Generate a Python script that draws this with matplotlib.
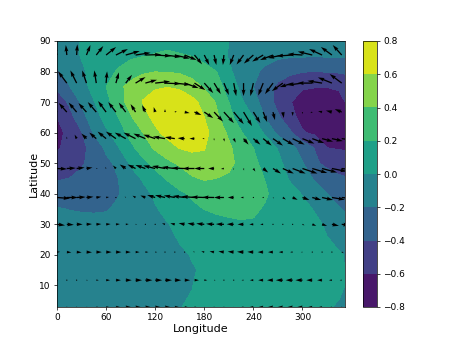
#!/usr/bin/python3

import numpy as np
import matplotlib
matplotlib.use("Agg")
import matplotlib.pyplot as plt

lon = [0, 15, 30, 45, 60, 75, 90, 105, 120, 135, 150, 165, 180, 195, 210, 225, 240, 255, 270, 285, 300, 315, 330, 345, 352]
lat = [3, 10, 15, 20, 30, 35, 40, 45, 50, 55, 60, 65, 70, 75, 80, 85, 90]

# field values, one list per latitude
z_3 = [-.02, -.025, -.03, -.035, -.04, -.04, -.035, -.03, -.025, -.015, -.003, .01, .02, .025, .03, .035, .04, .04, .04, .035, .03, .02, .005, -.005, -.01]
z_10 = [-.03, -.04, -.05, -.055, -.06, -.055, -.05, -.045, -.04, -.025, -.012, -.003, .03, .04, .05, .06, .07, .07, .07, .06, .05, .04, .03, .01, 0.0]
z_15 = [-.04, -.05, -.06, -.065, -.07, -.065, -.06, -.05, -.045, -.03, -.02, -.006, .01, .04, .06, .075, .085, .085, .085, .075, .06, .045, .03, .01, 0.0]
z_20 = [-.05, -.06, -.07, -.08, -.08, -.08, -.07, -.06, -.05, -.03, -.015, .005, .03, .05, .07, .09, .1, .1, .1, .09, .07, .05, .03, .01, -.005]
z_30 = [-.13, -.15, -.15, -.15, -.14, -.12, -.09, -.06, -.03, -.005, .03, .07, .1, .14, .16, .18, .18, .15, .12, .09, .06, .03, -.02, -.08, -.13]
z_35 = [-.19, -.205, -.215, -.22, -.215, -.17, -.11, -.06, -.015, .05, .1, .16, .205, .235, .25, .25, .23, .18, .13, .09, .04, -.01, -.1, -.19, -.22]
z_40 = [-.3, -.31, -.31, -.29, -.26, -.21, -.13, -.05, .03, .1, .17, .23, .28, .31, .33, .33, .3, .22, .13, .06, -.01, -.1, -.2, -.27, -.3]
z_45 = [-.42, -.4, -.36, -.31, -.26, -.2, -.08, .02, .13, .22, .3, .38, .42, .4, .37, .32, .27, .19, .09, -.02, -.12, -.22, -.29, -.36, -.38]
z_50 = [-.52, -.47, -.42, -.34, -.25, -.15, .03, .15, .26, .36, .43, .5, .55, .52, .45, .34, .24, .14, .04, -.07, -.19, -.36, -.46, -.53, -.55]
z_55 = [-.62, -.55, -.45, -.33, -.16, -.01, .15, .3, .43, .52, .61, .64, .61, .5, .43, .31, .2, .09, -.01, -.14, -.27, -.41, -.6, -.61, -.61]
z_60 = [-.68, -.53, -.41, -.18, -.03, .1, .27, .4, .56, .66, .72, .74, .66, .5, .37, .21, .1, -.03, -.25, -.37, -.58, -.64, -.7, -.7, -.68]
z_65 = [-.6, -.47, -.28, -.08, .06, .2, .38, .53, .65, .72, .78, .72, .6, .44, .25, .12, 0.0, -.22, -.37, -.53, -.67, -.74, -.78, -.74, -.68]
z_70 = [-.52, -.37, -.17, -.01, .13, .33, .47, .61, .68, .72, .72, .66, .53, .38, .2, .03, -.12, -.3, -.46, -.59, -.68, -.73, -.74, -.68, -.6]
z_75 = [-.36, -.21, -.07, .06, .2, .35, .46, .54, .58, .595, .57, .48, .38, .27, .13, -.05, -.2, -.32, -.44, -.52, -.58, -.59, -.595, -.57, -.55]
z_80 = [-.22, -.13, -.03, .06, .14, .22, .31, .37, .395, .39, .37, .33, .27, .2, .03, -.08, -.16, -.24, -.31, -.36, -.39, -.4, -.39, -.38, -.37]
z_85 = [-.14, -.07, .01, .06, .1, .14, .17, .195, .21, .22, .21, .2, .14, .07, -.01, -.06, -.1, -.14, -.17, -.185, -.19, -.19, -.19, -.18, -.18]
z_90 = [-.08, -.04, .01, .05, .08, .11, .13, .15, .16, .17, .16, .14, .1, .05, 0.0, -.03, -.05, -.07, -.09, -.11, -.13, -.14, -.14, -.13, -.12]

levels = [-0.8, -0.6, -0.4, -0.2, 0.0, 0.2, 0.4, 0.6, 0.8]

arrow_lon = list(range(0, 360, 12))
arrow_lat = [2.7, 11.6, 20.8, 29.9, 38.7, 48.2, 58, 66.7, 76.2, 85.4]

u_85 = [-3, -1, .7, 4, 7, 10, 12, 14, 15, 16, 16, 16, 15, 12, 7.6, 5, 2.3, -1, -4, -7, -9.5, -11, -13, -15, -16, -15, -14.5, -13, -11, -9]
v_85 = [10, 10, 10.7, 10, 9, 8, 6, 4, 2.3, .5, -1, -2, -3.5, -5, -9.3, -10, -10, -10, -10, -9.5, -8.5, -6.5, -5, -3, -1, 1, 3.5, 6, 8, 10]
u_76 = [-10, -8.7, -6.3, -4.3, -2, 1, 3, 6.3, 10, 11.7, 15, 15.7, 15.7, 14, 11, 9, 6.7, 5, 2.5, 0, -3, -5, -8, -11, -13, -15, -15, -14.7, -14, -12]
v_76 = [10, 11.7, 12.7, 12.7, 12.7, 11.7, 10.7, 8.3, 6, 3.3, 1.7, -.7, -1.7, -5, -7, -10, -11, -12, -13, -13, -13, -12.5, -11, -8, -4, -2, 0, 2.3, 5.7, 9]
u_67 = [-7, -8, -8, -8, -8.5, -8, -7.7, -7, -5, -3.3, -1.5, 0, 2, 5, 7, 9, 9, 10, 10, 8.5, 7, 4, 2, 1, 0, 0, -2, -4, -6, -7]
v_67 = [8, 9, 9.5, 9, 10, 11, 10, 9.5, 8, 7, 5, 3, 1, -1, -3, -6, -9.5, -11, -12, -14, -11, -10, -8, -6, -4, -2, -1, 1, 1.5, 3]
u_58 = [0, 0, -2, -5, -7, -8.5, -10, -11, -12, -12, -12, -12, -10, -7, -5, -2, 0, .5, 2, 5, 7, 8.5, 10, 11, 12, 12, 12, 11, 11, 10]
v_58 = [.5, 2, 4, 5, 6, 7, 7, 6, 6, 5, 4, 2, 1.5, .5, 0, 0, -2, -3, -4, -6, -6, -7, -7, -6.5, -6, -5, -4.5, -3, -2.5, -1.5]
u_48 = [10, 9, 8, 6, 1.5, -1, -3, -6, -8, -10, -12, -13, -13, -13, -12, -10, -6, -3, -.5, .5, 2, 5, 8, 11, 13, 15, 15, 15, 15, 15]
v_48 = [-.5, .5, 1, 1, .5, 1.5, 3, 4, 4, 3.5, 3, 2.5, 1.5, .5, 0, 0, 0, -.5, -1.5, -2, -3, -4, -5, -5, -5, -5, -4.5, -4, -3, -2]
u_39 = [13, 11, 9, 7, 5, 3, 1, -1, -3, -5, -8, -10, -11, -12, -13, -13, -12, -10, -6, -3, -1, .5, 1, 3, 5, 7, 9, 11, 13, 14]
v_39 = [-1, 0, .5, .7, .7, .5, .3, 1, 1.8, 2, 2.5, 2.3, 2, 1.5, 1, .5, .2, 0, 0, 0, 0, -.5, -1, -2, -2.3, -2.5, -2.5, -2.5, -2.2, -1.5]
u_30 = [8, 7, 6, 5.5, 5, 4.5, 4, 3, 1.5, 0, -1, -3, -4.5, -6, -7, -8, -8, -8, -7, -6, -4, -3, -1, 0, 1, 2, 4, 5, 7, 8]
v_30 = [-1, -.5, 0, .3, .3, .3, .3, .3, .2, .2, .8, 1, 1, 1.2, 1, .8, .5, .3, .2, 0, 0, 0, 0, 0, -.5, -1, -1.5, -1.5, -1.5, -1]
u_21 = [3, 4.5, 5, 5.5, 5.5, 5.5, 5.5, 5, 4, 3, 2, 1, 0, -.5, -1.5, -3, -4.5, -5.5, -6, -6.5, -6, -5.5, -5, -4, -2.5, -1.5, -.5, .5, 1, 2]
v_21 = [.3, -.3, -.3, -.2, 0, 0, 0, 0, 0, 0, 0, 0, 0, .2, .5, .7, .7, .7, .5, .3, .2, 0, 0, 0, 0, 0, 0, -.2, -.5, -.7]
u_12 = [0, .5, 1, 1.5, 2.5, 4, 5, 6, 6.5, 7, 7, 7, 6.5, 5.5, 4.5, 3, 1.5, .5, -.5, -2, -3.5, -5, -6, -7, -7, -7, -6, -5, -3, -2]
v_12 = [0, 0, 0, 0, 0, 0, 0, 0, 0, 0, 0, 0, 0, 0, 0, 0, 0, 0, 0, 0, 0, 0, 0, 0, 0, 0, 0, 0, 0, 0]
u_3 = [0, .5, 1, 2, 3, 4, 5, 6, 6, 6, 6, 6, 5, 4, 3, 1.5, .5, -.5, -1.5, -3, -4.5, -5.5, -6, -6, -6, -6, -5, -4, -2.5, -1]
v_3 = [0, 0, 0, 0, 0, 0, 0, 0, 0, 0, 0, 0, 0, 0, 0, 0, 0, 0, 0, 0, 0, 0, 0, 0, 0, 0, 0, 0, 0, 0]

x_ticks = [0, 60, 120, 180, 240, 300]
y_ticks = [10, 20, 30, 40, 50, 60, 70, 80, 90]


def make_plot():
    z = np.array([z_3, z_10, z_15, z_20, z_30, z_35, z_40, z_45, z_50, z_55, z_60, z_65, z_70, z_75, z_80, z_85, z_90])
    u = np.array([u_3, u_12, u_21, u_30, u_39, u_48, u_58, u_67, u_76, u_85])
    v = np.array([v_3, v_12, v_21, v_30, v_39, v_48, v_58, v_67, v_76, v_85])

    fig = plt.figure(figsize=(4.63, 3.46), dpi=100)
    ax = fig.add_axes([57 / 463, 1 - 307 / 346, 288 / 463, 266 / 346])
    cax = fig.add_axes([363 / 463, 1 - 307 / 346, 14 / 463, 266 / 346])

    cf = ax.contourf(lon, lat, z, levels=levels, cmap="viridis")
    # u, v are in pixels, axes are 288 px wide
    ax.quiver(arrow_lon, arrow_lat, u, v, color="black", scale=288, width=0.0045)

    ax.set_xlim(0, 352)
    ax.set_ylim(2.8, 90)
    ax.set_xticks(x_ticks)
    ax.set_yticks(y_ticks)
    ax.tick_params(labelsize=6.5, length=2.5, width=0.5, pad=2)
    ax.set_xlabel("Longitude", fontsize=8, labelpad=1.5)
    ax.set_ylabel("Latitude", fontsize=8, labelpad=0)

    cb = fig.colorbar(cf, cax=cax)
    cb.set_ticks(levels)
    cb.ax.tick_params(labelsize=6.5, length=2.5, width=0.5, pad=2)
    cb.outline.set_linewidth(0.5)
    for s in ax.spines.values():
        s.set_linewidth(0.5)

    plt.savefig("out.png", dpi=100)
    plt.close()


if __name__ == "__main__":
    make_plot()
